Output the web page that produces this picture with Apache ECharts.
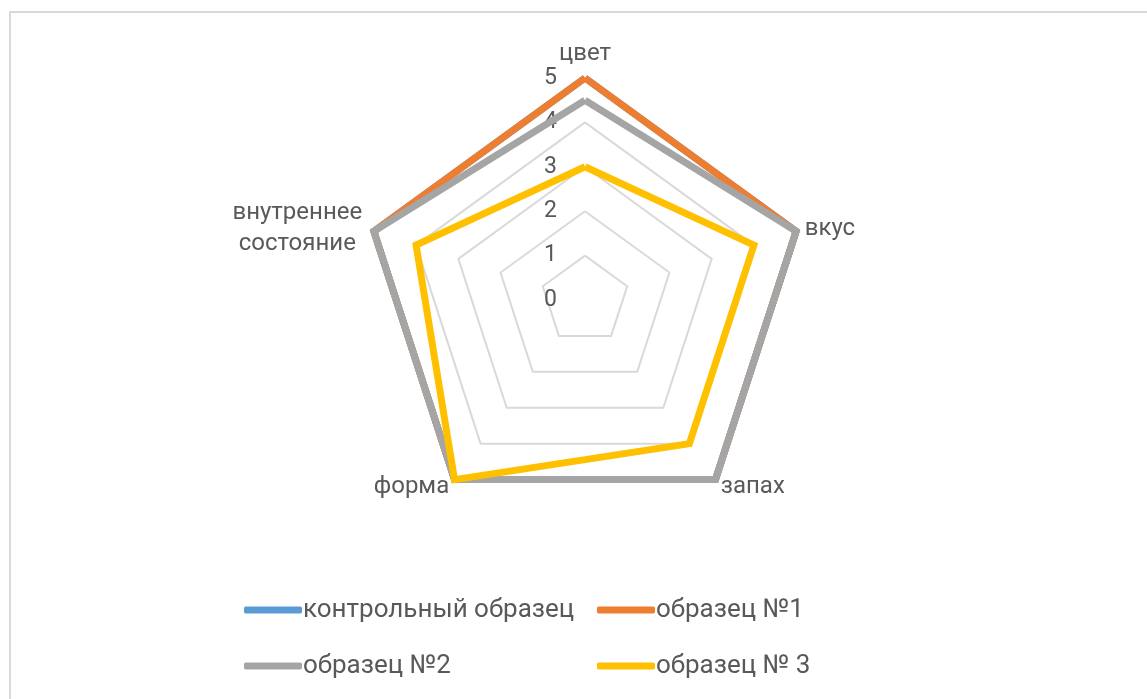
<!DOCTYPE html>
<html>
<head>
<meta charset="utf-8">
<script src="https://cdn.jsdelivr.net/npm/echarts@6/dist/echarts.min.js"></script>
<style>
  html, body { margin: 0; padding: 0; background: #fff; }
  #chart { width: 1147px; height: 699px; }
</style>
</head>
<body>
<div id="chart"></div>
<script>
// Radar: органолептическая оценка образцов (шкала 0–5)
// ECharts раскладывает оси против часовой стрелки, поэтому порядок:
// цвет (верх), внутреннее состояние, форма, запах, вкус
const indicators = ['цвет', 'внутреннее\nсостояние', 'форма', 'запах', 'вкус']
const seriesNames = ['контрольный образец', 'образец №1', 'образец №2', 'образец № 3']
const control = [5, 5, 5, 5, 5]
const sample1 = [5, 5, 5, 5, 5]
const sample2 = [4.5, 5, 5, 5, 5]
const sample3 = [3, 4, 5, 4, 4]
const scaleTicks = [0, 1, 2, 3, 4, 5]
const colors = ['#5b9bd5', '#ed7d31', '#a5a5a5', '#ffc000']

const FONT = 'Roboto'
const TXT = '#595959'

const chart = echarts.init(document.getElementById('chart'))
const values = [control, sample1, sample2, sample3]

const legendPos = [[239, 592], [592, 592], [239, 648], [592, 648]]
const legends = seriesNames.map((n, i) => ({
  left: legendPos[i][0], top: legendPos[i][1],
  data: [n], icon: 'roundRect', itemWidth: 58, itemHeight: 7,
  textStyle: { color: TXT, fontFamily: FONT, fontSize: 26, padding: [0, 0, 0, -4] },
  selectedMode: false
}))

chart.setOption({
  animation: false,
  color: colors,
  graphic: [{
    type: 'rect', shape: { x: 10, y: 12, width: 1200, height: 800 },
    style: { fill: 'none', stroke: '#d9d9d9', lineWidth: 2 }, silent: true
  }],
  legend: legends,
  // шкала 0..5 слева от вертикальной оси
  grid: { left: 585, top: 78, height: 222, width: 10 },
  xAxis: { type: 'value', show: false },
  yAxis: {
    type: 'value', min: scaleTicks[0], max: scaleTicks[scaleTicks.length - 1], interval: 1,
    axisLine: { show: false }, axisTick: { show: false }, splitLine: { show: false },
    axisLabel: { color: TXT, fontFamily: FONT, fontSize: 23, margin: 28 }
  },
  radar: {
    center: [585, 300],
    radius: 222,
    startAngle: 90,
    splitNumber: 5,
    shape: 'polygon',
    indicator: indicators.map(n => ({ name: n, min: 0, max: 5 })),
    axisName: {
      color: TXT, fontFamily: FONT, fontSize: 24, lineHeight: 31,
      formatter: v => v.indexOf('\n') < 0 ? v : v.split('\n').map(s => '{c|' + s + '}').join('\n'),
      rich: { c: { width: 136, align: 'center', color: TXT, fontFamily: FONT, fontSize: 24, lineHeight: 31 } }
    },
    nameGap: 9,
    axisLine: { show: false },
    axisTick: { show: false },
    splitArea: { show: false },
    splitLine: { lineStyle: { color: '#d9d9d9', width: 2 } },
    axisLabel: { show: false }
  },
  series: [{
    type: 'radar',
    symbol: 'none',
    lineStyle: { width: 7, join: 'miter' },
    data: values.map((v, i) => ({
      name: seriesNames[i], value: v,
      lineStyle: { color: colors[i], width: 7 },
      itemStyle: { color: colors[i] }
    }))
  }]
})
</script>
</body>
</html>
